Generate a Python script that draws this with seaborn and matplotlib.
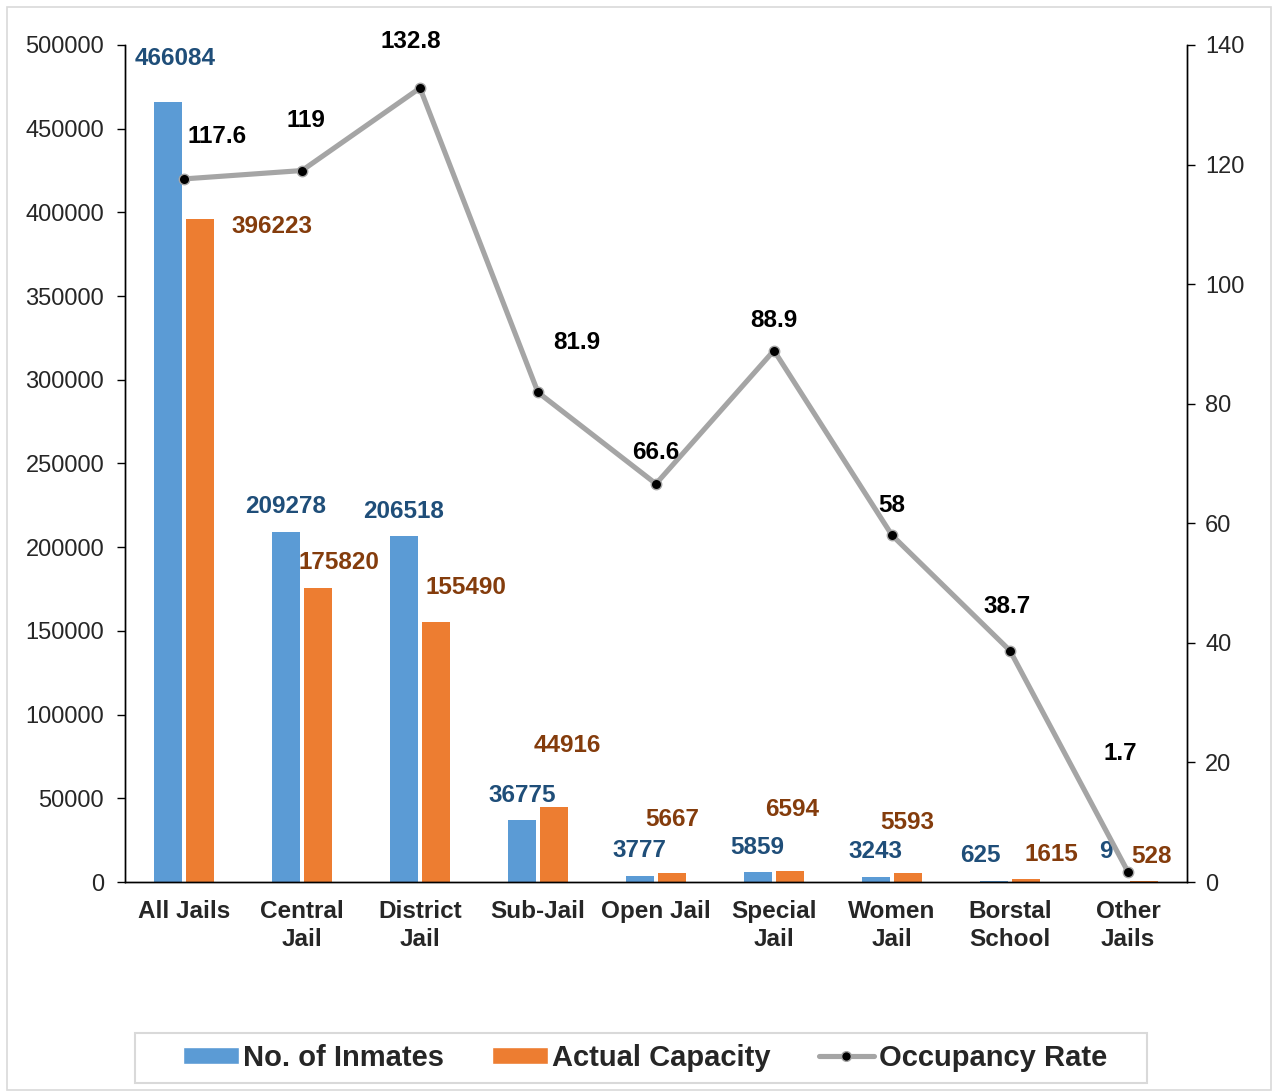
import numpy as np
import pandas as pd
import matplotlib.pyplot as plt
from matplotlib.patches import Patch, Rectangle
from matplotlib.lines import Line2D
import seaborn as sns

# -----------------------------
# Data
# -----------------------------
categories = ["All Jails", "Central\nJail", "District\nJail", "Sub-Jail", "Open Jail",
              "Special\nJail", "Women\nJail", "Borstal\nSchool", "Other\nJails"]
inmates = [466084, 209278, 206518, 36775, 3777, 5859, 3243, 625, 9]
capacity = [396223, 175820, 155490, 44916, 5667, 6594, 5593, 1615, 528]
occupancy = [117.6, 119, 132.8, 81.9, 66.6, 88.9, 58, 38.7, 1.7]
left_ticks = list(range(0, 500001, 50000))
right_ticks = list(range(0, 141, 20))

# label offsets (pixels) from each mark
blue_off = [(7, 43), (0, 25), (0, 25), (0, 25), (0, 25), (0, 25), (0, 25), (-13, 25), (-6, 30)]
orange_off = [(72, -8), (21, 25), (30, 34), (13, 61), (0, 53), (2, 61), (-1, 50), (25, 25), (7, 25)]
line_off = [(33, 42), (4, 50), (-9, 47), (39, 50), (0, 31), (0, 30), (0, 30), (-3, 44), (-8, 118)]

BLUE, ORANGE, GREY = "#5B9BD5", "#ED7D31", "#A5A5A5"
BLUE_TXT, ORANGE_TXT = "#1F4E79", "#843C0C"

sns.set_style("white")
plt.rcParams['font.family'] = ['Liberation Sans', 'DejaVu Sans']

df = pd.DataFrame({
    "cat": categories * 2,
    "value": inmates + capacity,
    "series": ["No. of Inmates"] * len(categories) + ["Actual Capacity"] * len(categories),
})

fig = plt.figure(figsize=(12.74, 10.92), dpi=100)
ax = fig.add_axes([0.0981, 0.1923, 0.8336, 0.7665])
# outer chart border and legend box
fig.add_artist(Rectangle((0.0055, 0.002), 0.992, 0.9916, transform=fig.transFigure,
                         fill=False, edgecolor="#D9D9D9", linewidth=1.2))
fig.add_artist(Rectangle((0.106, 0.0082), 0.7943, 0.0458, transform=fig.transFigure,
                         fill=False, edgecolor="#D9D9D9", linewidth=1.5))

sns.barplot(data=df, x="cat", y="value", hue="series", order=categories,
            palette=[BLUE, ORANGE], width=0.55, gap=0.15, ax=ax, legend=False,
            saturation=1, errorbar=None, linewidth=0)
ax.set_ylim(0, 500000)
ax.set_yticks(left_ticks)
ax.set_xlim(-0.5, len(categories) - 0.5)
ax.set_xlabel("")
ax.set_ylabel("")

ax2 = ax.twinx()
pos = np.arange(len(categories))
sns.lineplot(x=pos, y=occupancy, ax=ax2, color=GREY, linewidth=3.7,
             marker="o", markersize=7.5, markerfacecolor="black",
             markeredgecolor=GREY, markeredgewidth=1)
ax2.set_ylim(0, 140)
ax2.set_yticks(right_ticks)

# data labels
for i, bar in enumerate(ax.containers[0]):
    x = bar.get_x() + bar.get_width() / 2
    ax.annotate(f"{inmates[i]}", (x, bar.get_height()), xytext=blue_off[i],
                textcoords="offset pixels", ha="center", va="center",
                fontsize=17.5, fontweight="bold", color=BLUE_TXT)
for i, bar in enumerate(ax.containers[1]):
    x = bar.get_x() + bar.get_width() / 2
    ax.annotate(f"{capacity[i]}", (x, bar.get_height()), xytext=orange_off[i],
                textcoords="offset pixels", ha="center", va="center",
                fontsize=17.5, fontweight="bold", color=ORANGE_TXT)
for i, v in enumerate(occupancy):
    ax2.annotate(f"{v:g}", (pos[i], v), xytext=line_off[i],
                 textcoords="offset pixels", ha="center", va="center",
                 fontsize=17.5, fontweight="bold", color="black")

# axes styling
for a in (ax, ax2):
    a.spines["top"].set_visible(False)
    for s in ("left", "right", "bottom"):
        a.spines[s].set_color("black")
        a.spines[s].set_linewidth(1)
ax.tick_params(axis="y", direction="out", length=6, width=1, color="black",
               labelsize=17, pad=9, left=True)
ax2.tick_params(axis="y", direction="out", length=6, width=1, color="black",
                labelsize=17, pad=7, right=True)
ax.tick_params(axis="x", length=0, pad=13)
for lab in ax.get_xticklabels():
    lab.set_fontsize(17.5)
    lab.set_fontweight("bold")
    lab.set_linespacing(1.28)

handles = [
    Patch(facecolor=BLUE, label="No. of Inmates"),
    Patch(facecolor=ORANGE, label="Actual Capacity"),
    Line2D([0], [0], color=GREY, linewidth=3.7, marker="o", markersize=7,
           markerfacecolor="black", markeredgecolor=GREY, label="Occupancy Rate"),
]
leg = fig.legend(handles=handles, loc="center", bbox_to_anchor=(0.5063, 0.0315),
                 ncol=3, frameon=False,
                 prop={"weight": "bold", "size": 21}, handlelength=1.9,
                 handleheight=0.5, handletextpad=0.15, columnspacing=1.65,
                 borderpad=0.3, borderaxespad=0)

plt.savefig("out.png", dpi=100)
